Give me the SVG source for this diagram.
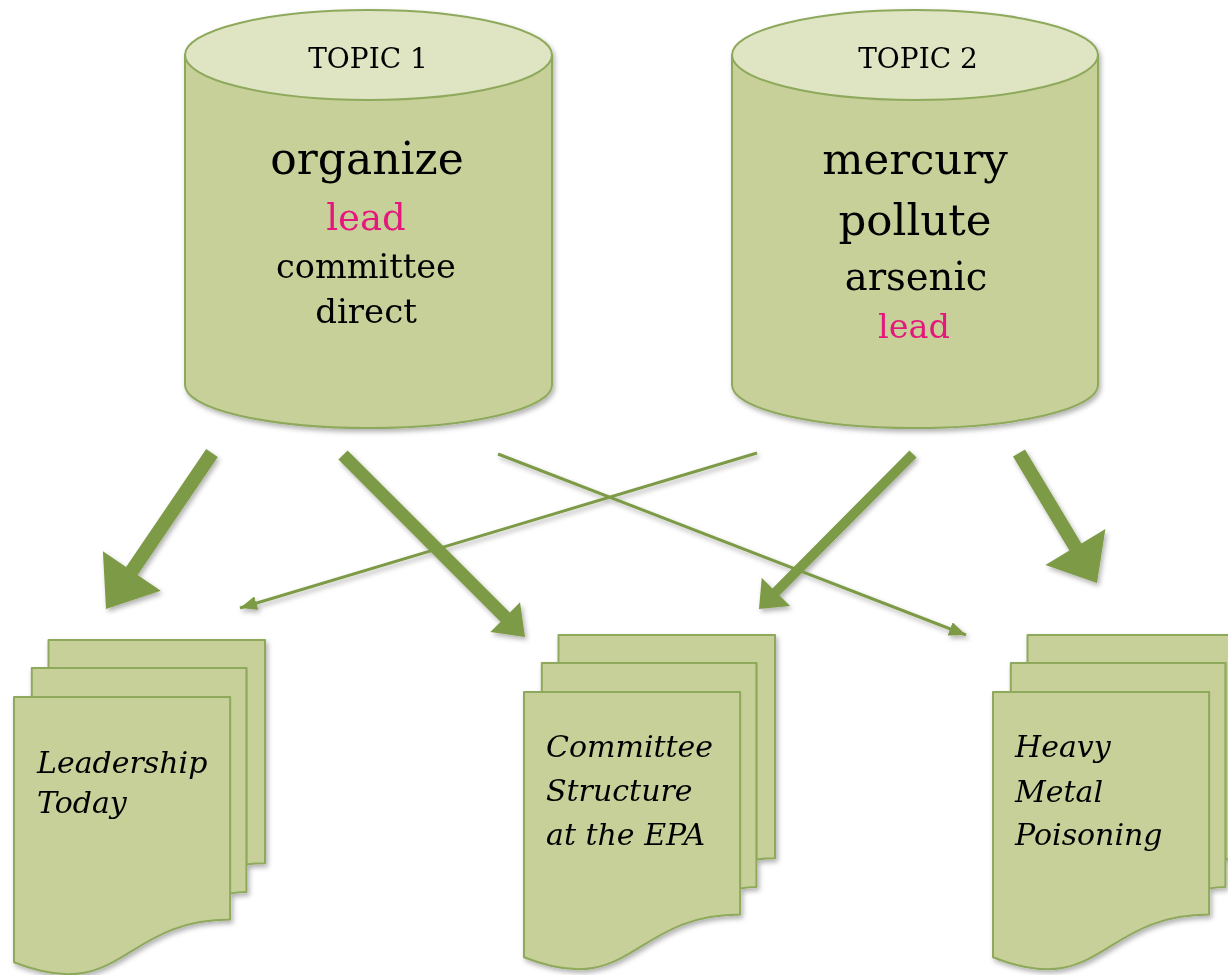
<svg xmlns="http://www.w3.org/2000/svg" width="1228" height="975" viewBox="0 0 1228 975">
<style>
.body{fill:#c8d09a;stroke:#8fa95c;stroke-width:2}
.top{fill:#dfe4c2;stroke:#8fa95c;stroke-width:2}
.doc{fill:#c8d09a;stroke:#8fa95c;stroke-width:2;stroke-linejoin:round}
.t{font-family:"DejaVu Serif","Liberation Serif",serif;fill:#000;text-anchor:middle}
.pink{fill:#e5197b}
.it{font-family:"DejaVu Serif","Liberation Serif",serif;font-style:italic;font-size:30px;fill:#000}
.arrow{fill:#7d9b46}
.thin{stroke:#7d9b46;stroke-width:3;fill:none}
</style>
<defs>
<filter id="sh" x="-10%" y="-10%" width="130%" height="130%">
<feDropShadow dx="2" dy="3" stdDeviation="2.5" flood-color="#000" flood-opacity="0.3"/>
</filter>
<marker id="ah" markerUnits="userSpaceOnUse" markerWidth="18" markerHeight="14" refX="17" refY="7" orient="auto">
<path d="M0,0 L17,7 L0,14 Z" fill="#7d9b46"/>
</marker>
<g id="docshape">
<path class="doc" d="M34.5,28.1 L34.5,0 L251,0 L251,223.2 C241.7,223.2 232.4,224.4 232.4,224.4 L232.4,28.1 Z"/>
<path class="doc" d="M17.8,57 L17.8,28.1 L232.4,28.1 L232.4,252.1 C224.2,252.1 216.1,253.6 216.1,253.6 L216.1,57 Z"/>
<path class="doc" d="M0,322.3 C108,365.1 108,279.5 216.1,279.5 L216.1,57 L0,57 Z"/>
</g>
</defs>

<g id="topic1" filter="url(#sh)">
<path class="body" d="M185,55 L185,385 A183.5,43 0 0 0 552,385 L552,55 Z"/>
<ellipse class="top" cx="368.5" cy="55" rx="183.5" ry="45"/>
<text class="t" x="368" y="68" font-size="28">TOPIC 1</text>
<text class="t" x="367" y="174" font-size="44">organize</text>
<text class="t pink" x="366" y="230" font-size="37">lead</text>
<text class="t" x="366" y="278" font-size="33.5">committee</text>
<text class="t" x="366" y="323" font-size="34">direct</text>
</g>

<g id="topic2" filter="url(#sh)">
<path class="body" d="M732,55 L732,385 A183,43 0 0 0 1098,385 L1098,55 Z"/>
<ellipse class="top" cx="915" cy="55" rx="183" ry="45"/>
<text class="t" x="918" y="68" font-size="28">TOPIC 2</text>
<text class="t" x="915" y="174" font-size="43.5">mercury</text>
<text class="t" x="915" y="235" font-size="43.5">pollute</text>
<text class="t" x="916" y="290" font-size="38.5">arsenic</text>
<text class="t pink" x="914" y="338" font-size="33.5">lead</text>
</g>

<g id="connectors" filter="url(#sh)">
<polygon class="arrow" points="206.21,449.07 126.06,567.03 102.9,551.29 106,609 160.8,590.63 137.64,574.89 217.79,456.93"/>
<polygon class="arrow" points="338.4,459.6 500.6,621.8 490.35,632.05 525,637 520.05,602.35 509.8,612.6 347.6,450.4"/>
<polygon class="arrow" points="909.45,450.48 772.37,588.45 761.73,577.87 759,609 790.11,606.07 779.47,595.49 916.55,457.52"/>
<polygon class="arrow" points="1013,456.6 1069.39,550.58 1045.38,564.99 1097,583 1105.4,528.97 1081.39,543.38 1025,449.4"/>
<line class="thin" x1="757" y1="453" x2="240" y2="608" marker-end="url(#ah)"/>
<line class="thin" x1="498" y1="454" x2="966" y2="635" marker-end="url(#ah)"/>
</g>

<g id="doc1" filter="url(#sh)">
<use href="#docshape" x="14" y="640"/>
<text class="it" x="37" y="773">Leadership</text>
<text class="it" x="37" y="813">Today</text>
</g>

<g id="doc2" filter="url(#sh)">
<use href="#docshape" x="524" y="635"/>
<text class="it" x="546" y="757">Committee</text>
<text class="it" x="546" y="801">Structure</text>
<text class="it" x="546" y="845">at the EPA</text>
</g>

<g id="doc3" filter="url(#sh)">
<use href="#docshape" x="993" y="635"/>
<text class="it" x="1015" y="757">Heavy</text>
<text class="it" x="1015" y="802">Metal</text>
<text class="it" x="1015" y="845">Poisoning</text>
</g>
</svg>
